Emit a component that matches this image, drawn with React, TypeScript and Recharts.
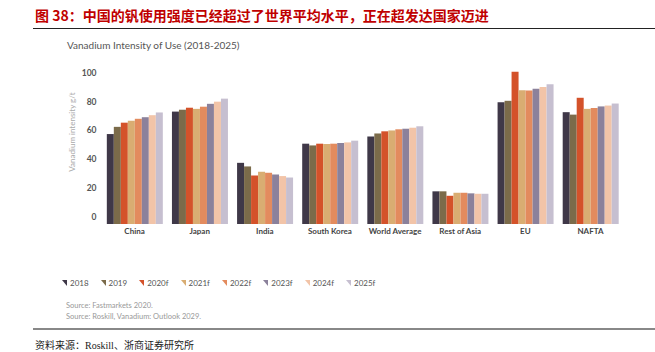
import React from 'react';
import { Bar, BarChart, Label, XAxis, YAxis } from 'recharts';

const regions = ['China', 'Japan', 'India', 'South Korea', 'World Average', 'Rest of Asia', 'EU', 'NAFTA'];
const years = ['2018', '2019', '2020f', '2021f', '2022f', '2023f', '2024f', '2025f'];
const colors = ['#3f3848', '#7b6b4a', '#d4522a', '#d9ad72', '#e38b5e', '#8b819b', '#f2c4a8', '#c6bfd0'];

const v2018 = [57.5, 73.1, 37.5, 50.8, 55.8, 17.7, 79.6, 72.7];
const v2019 = [62.5, 74.4, 35.0, 49.6, 57.9, 17.7, 80.6, 71.0];
const v2020 = [65.4, 75.8, 28.7, 50.8, 59.4, 14.6, 100.8, 82.7];
const v2021 = [66.7, 75.0, 31.3, 50.6, 60.0, 16.7, 87.9, 75.0];
const v2022 = [68.1, 76.5, 30.6, 50.8, 60.8, 16.7, 87.7, 75.6];
const v2023 = [69.2, 78.5, 29.4, 51.3, 61.2, 16.3, 89.0, 76.7];
const v2024 = [70.6, 80.0, 28.3, 51.7, 61.9, 16.0, 90.2, 77.3];
const v2025 = [72.5, 82.1, 27.3, 52.9, 62.9, 16.0, 92.1, 78.7];

const yTicks = [0, 20, 40, 60, 80, 100];
// bars in the source start a little below the "0" label
const baseline = -5;

const series = [v2018, v2019, v2020, v2021, v2022, v2023, v2024, v2025];

const data = regions.map((name, i) => {
  const row: Record<string, any> = { name };
  years.forEach((y, j) => {
    row[y] = series[j][i];
  });
  return row;
});

const sans = 'Lato, "Open Sans", sans-serif';

const App: React.FC = () => {
  return (
    <div style={{ position: 'absolute', left: 0, top: 0, width: 655, height: 352, background: '#fff', overflow: 'hidden' }}>
      <div
        style={{
          position: 'absolute',
          left: 35,
          top: 6,
          fontFamily: '"Noto Sans CJK SC", sans-serif',
          fontWeight: 700,
          fontSize: 14,
          lineHeight: '18px',
          color: '#c00000',
          whiteSpace: 'nowrap'
        }}
      >
        图 38：中国的钒使用强度已经超过了世界平均水平，正在超发达国家迈进
      </div>
      <div style={{ position: 'absolute', left: 33, top: 28, width: 622, height: 1, background: '#222' }} />
      <div
        style={{
          position: 'absolute',
          left: 67,
          top: 39,
          fontFamily: sans,
          fontSize: 10,
          lineHeight: '12px',
          color: '#555',
          whiteSpace: 'nowrap'
        }}
      >
        Vanadium Intensity of Use (2018-2025)
      </div>

      <BarChart
        width={655}
        height={352}
        data={data}
        margin={{ top: 70, right: 32, bottom: 98, left: 62 }}
        barCategoryGap="7.4%"
        barGap={0}
        style={{ position: 'absolute', left: 0, top: 0 }}
      >
        <XAxis
          dataKey="name"
          axisLine={false}
          tickLine={false}
          tickSize={2}
          tickMargin={2.5}
          interval={0}
          tick={{ fontSize: 8, fontWeight: 700, fill: '#444', fontFamily: sans }}
        />
        <YAxis
          width={40}
          type="number"
          domain={[baseline, 102]}
          ticks={yTicks}
          axisLine={false}
          tickLine={false}
          tickSize={3}
          tickMargin={2.5}
          tick={{ fontSize: 8.5, fontWeight: 700, fill: '#555', fontFamily: sans }}
        >
          <Label
            content={() => (
              <text
                x={72}
                y={132}
                transform="rotate(-90 72 132)"
                textAnchor="middle"
                dominantBaseline="central"
                fontSize={8}
                fill="#aaa"
                fontFamily={sans}
              >
                Vanadium intensity g/t
              </text>
            )}
          />
        </YAxis>
        {years.map((y, j) => (
          <Bar
            key={y}
            dataKey={(d: any) => [baseline, d[y]]}
            name={y}
            fill={colors[j]}
            isAnimationActive={false}
          />
        ))}
      </BarChart>

      <div
        style={{
          position: 'absolute',
          left: 62,
          top: 277,
          display: 'flex',
          fontFamily: sans,
          fontSize: 8,
          lineHeight: '12px',
          color: '#555',
          whiteSpace: 'nowrap'
        }}
      >
        {years.map((y, j) => (
          <div key={y} style={{ display: 'flex', alignItems: 'center', marginRight: 12 }}>
            <svg width={5} height={6} style={{ marginRight: 3 }}>
              <polygon points="0,0 5,0 5,6" fill={colors[j]} />
            </svg>
            {y}
          </div>
        ))}
      </div>

      <div
        style={{
          position: 'absolute',
          left: 66,
          top: 300,
          fontFamily: sans,
          fontSize: 7.5,
          lineHeight: '11px',
          color: '#999',
          whiteSpace: 'nowrap'
        }}
      >
        <div>Source: Fastmarkets 2020.</div>
        <div>Source: Roskill, Vanadium: Outlook 2029.</div>
      </div>

      <div style={{ position: 'absolute', left: 33, top: 328, width: 622, height: 2, background: '#888' }} />
      <div
        style={{
          position: 'absolute',
          left: 35,
          top: 339,
          fontFamily: '"Liberation Serif", "Noto Sans CJK SC", serif',
          fontSize: 10,
          lineHeight: '13px',
          color: '#222',
          whiteSpace: 'nowrap'
        }}
      >
        资料来源：Roskill、浙商证券研究所
      </div>
    </div>
  );
};

export default App;
